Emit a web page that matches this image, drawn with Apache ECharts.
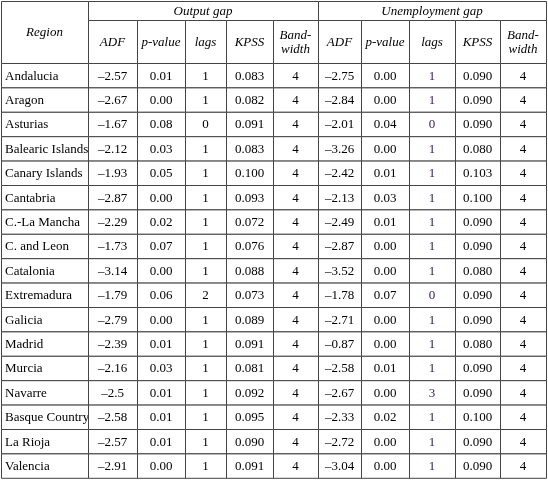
<!DOCTYPE html>
<html><head><meta charset="utf-8">
<script src="https://cdn.jsdelivr.net/npm/echarts@6/dist/echarts.min.js"></script>
<style>html,body{margin:0;padding:0;background:#fff}#c{width:548px;height:480px}</style>
</head><body><div id="c"></div>
<script>
const regions=["Andalucia","Aragon","Asturias","Balearic Islands","Canary Islands","Cantabria","C.-La Mancha","C. and Leon","Catalonia","Extremadura","Galicia","Madrid","Murcia","Navarre","Basque Country","La Rioja","Valencia"];
const outADF=["–2.57","–2.67","–1.67","–2.12","–1.93","–2.87","–2.29","–1.73","–3.14","–1.79","–2.79","–2.39","–2.16","–2.5","–2.58","–2.57","–2.91"];
const outP=["0.01","0.00","0.08","0.03","0.05","0.00","0.02","0.07","0.00","0.06","0.00","0.01","0.03","0.01","0.01","0.01","0.00"];
const outLags=["1","1","0","1","1","1","1","1","1","2","1","1","1","1","1","1","1"];
const outKPSS=["0.083","0.082","0.091","0.083","0.100","0.093","0.072","0.076","0.088","0.073","0.089","0.091","0.081","0.092","0.095","0.090","0.091"];
const outBW=["4","4","4","4","4","4","4","4","4","4","4","4","4","4","4","4","4"];
const unADF=["–2.75","–2.84","–2.01","–3.26","–2.42","–2.13","–2.49","–2.87","–3.52","–1.78","–2.71","–0.87","–2.58","–2.67","–2.33","–2.72","–3.04"];
const unP=["0.00","0.00","0.04","0.00","0.01","0.03","0.01","0.00","0.00","0.07","0.00","0.00","0.01","0.00","0.02","0.00","0.00"];
const unLags=["1","1","0","1","1","1","1","1","1","0","1","1","1","3","1","1","1"];
const unKPSS=["0.090","0.090","0.090","0.080","0.103","0.100","0.090","0.090","0.080","0.090","0.090","0.080","0.090","0.090","0.100","0.090","0.090"];
const unBW=["4","4","4","4","4","4","4","4","4","4","4","4","4","4","4","4","4"];
const subHeaders=["ADF","p-value","lags","KPSS","Band-\nwidth"];
const groupHeaders=["Output gap","Unemployment gap"];

// layout
const colX=[1,88,137,185,226,273,318,361,409,455,500,546];
const headTop=1, headMid=20, headBot=63, rowH=24.4;
const cols=[outADF,outP,outLags,outKPSS,outBW,unADF,unP,unLags,unKPSS,unBW];
const cells=[];
cells.push([colX[0],headTop,colX[1],headBot,"Region",1,0]);
cells.push([colX[1],headTop,colX[6],headMid,groupHeaders[0],1,0]);
cells.push([colX[6],headTop,colX[11],headMid,groupHeaders[1],1,0]);
for(let i=0;i<10;i++) cells.push([colX[i+1],headMid,colX[i+2],headBot,subHeaders[i%5],1,0]);
regions.forEach((r,ri)=>{
  const y0=headBot+ri*rowH,y1=y0+rowH;
  cells.push([colX[0],y0,colX[1],y1,r,0,2]);
  cols.forEach((c,ci)=>cells.push([colX[ci+1],y0,colX[ci+2],y1,c[ri],0,ci===7?1:0]));
});
const chart=echarts.init(document.getElementById('c'));
chart.setOption({
  animation:false,
  grid:{left:0,right:0,top:0,bottom:0},
  xAxis:{type:'value',min:0,max:548,show:false},
  yAxis:{type:'value',min:0,max:480,inverse:true,show:false},
  series:[{type:'custom',coordinateSystem:'cartesian2d',data:cells,
    renderItem:(p,api)=>{
      const a=api.coord([api.value(0),api.value(1)]),b=api.coord([api.value(2),api.value(3)]);
      const d=cells[p.dataIndex];
      const left=d[6]===2;
      return {type:'group',children:[
        {type:'rect',shape:{x:a[0]+0.5,y:a[1]+0.5,width:b[0]-a[0],height:b[1]-a[1]},style:{fill:'#fff',stroke:'#444',lineWidth:1}},
        {type:'text',style:{text:d[4],x:left?a[0]+4:(a[0]+b[0])/2,y:(a[1]+b[1])/2+1,align:left?'left':'center',verticalAlign:'middle',
          font:(d[5]?'italic ':'')+'13px "Liberation Serif"',lineHeight:14,fill:d[6]===1?'#3a1560':'#000'}}
      ]};
    }}]
});
</script></body></html>
